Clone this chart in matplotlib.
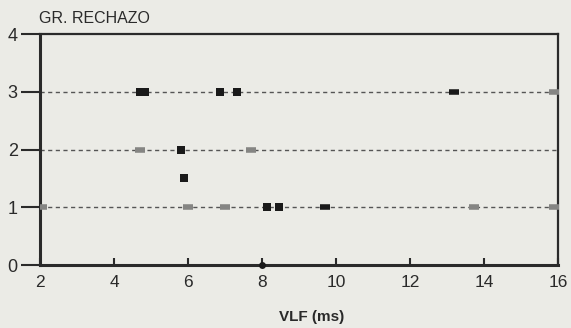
import matplotlib
matplotlib.use('Agg')
import matplotlib.pyplot as plt

# dark (black) squares
dark_x = [4.7, 4.85, 6.88, 7.33, 5.8, 5.9, 8.15, 8.45]
dark_y = [3, 3, 3, 3, 2, 1.5, 1, 1]
# light (grey) dash-like marks
light_x = [4.7, 7.7, 6.0, 7.0, 13.73, 2.05, 15.9, 15.9]
light_y = [2, 2, 1, 1, 1, 1, 3, 1]
# small dark dash marks
small_x = [13.2, 9.7]
small_y = [3, 1]
# point on the baseline
base_x = [8.0]
base_y = [0]

xticks = [2, 4, 6, 8, 10, 12, 14, 16]
yticks = [0, 1, 2, 3, 4]
grid_levels = [1, 2, 3]

plt.rcParams['font.family'] = ['Liberation Sans', 'DejaVu Sans']
bg = '#ebebe6'
ink = '#2a2a2a'

fig = plt.figure(figsize=(5.71, 3.28), dpi=100, facecolor=bg)
ax = fig.add_axes([0.070, 0.192, 0.907, 0.704], facecolor=bg)

for lv in grid_levels:
    ax.axhline(lv, color='#555555', lw=1.0, ls=(0, (3, 2.5)), zorder=1)

ax.scatter(light_x, light_y, marker='_', s=45, color='#858583', zorder=3, linewidths=4)
ax.scatter(dark_x, dark_y, marker='s', s=30, color='#1a1a1a', zorder=4, linewidths=0)
ax.scatter(small_x, small_y, marker='_', s=50, color='#1a1a1a', zorder=4, linewidths=4)
ax.scatter(base_x, base_y, marker='o', s=25, color='#1a1a1a', zorder=5, linewidths=0,
           clip_on=False)

ax.set_xlim(2, 16)
ax.set_ylim(0, 4)
ax.set_xticks(xticks)
ax.set_yticks(yticks)
ax.tick_params(axis='y', direction='out', length=14, width=1.5, color=ink,
               labelsize=13, labelcolor=ink, pad=2)
ax.tick_params(axis='x', direction='in', length=5, width=1.5, color=ink,
               labelsize=12.5, labelcolor=ink, pad=7)
for s in ['left', 'bottom']:
    ax.spines[s].set_linewidth(2.2)
    ax.spines[s].set_color(ink)
for s in ['top', 'right']:
    ax.spines[s].set_linewidth(1.6)
    ax.spines[s].set_color(ink)

fig.text(0.068, 0.945, 'GR. RECHAZO', fontsize=11.5, color=ink, ha='left', va='center')
fig.text(0.545, 0.035, 'VLF (ms)', fontsize=11, color=ink, fontweight='bold',
         ha='center', va='center')

fig.savefig('out.png', dpi=100, facecolor=bg)
